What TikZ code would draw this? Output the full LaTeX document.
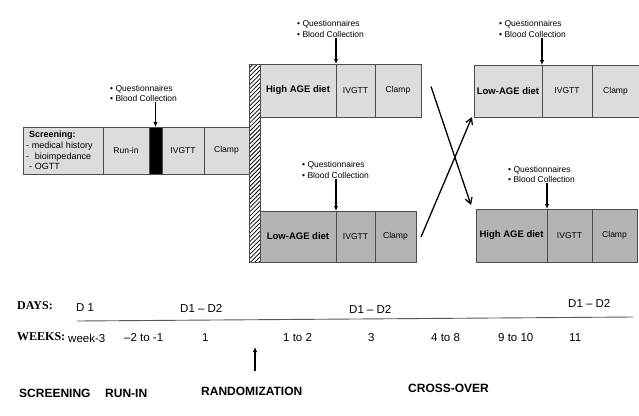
\documentclass[tikz,border=0pt]{standalone}
\usepackage{fontspec}
\setmainfont{Liberation Sans}
\newfontfamily\timesfont{Liberation Serif}
\usetikzlibrary{arrows.meta, positioning, patterns.meta}

\definecolor{lightbox}{RGB}{220,220,220}
\definecolor{darkbox}{RGB}{180,180,180}

\begin{document}
\begin{tikzpicture}[x=1pt, y=-1pt,
  seg/.style={draw=black!70, line width=0.8pt, inner sep=0pt, outer sep=0pt, align=center, font=\fontsize{8.5}{10}\selectfont},
  light/.style={seg, fill=lightbox},
  dark/.style={seg, fill=darkbox},
  diet/.style={font=\bfseries\fontsize{9.5}{11}\selectfont},
  note/.style={anchor=west, align=left, inner sep=0pt, font=\fontsize{8.5}{10.5}\selectfont},
  darr/.style={-{Latex[length=5pt,width=4.5pt]}, line width=1.2pt},
  xarr/.style={-{Straight Barb[length=6pt,width=7pt]}, line width=1.3pt},
  tl/.style={anchor=west, inner sep=0pt, font=\fontsize{11.5}{13}\selectfont},
  hd/.style={anchor=west, inner sep=0pt, font=\timesfont\bfseries\fontsize{12}{14}\selectfont},
  phase/.style={anchor=west, inner sep=0pt, font=\bfseries\fontsize{12}{14}\selectfont}
]
\useasboundingbox (0,0) rectangle (639,415);

% SCREENING / RUN-IN ROW
\node[light, anchor=north west, minimum width=80pt, minimum height=47pt, text width=74pt, align=left,
  font=\fontsize{9}{10.7}\selectfont] (scr) at (23,127)
  {\hspace*{3pt}\textbf{Screening:}\\- medical history\\-~~bioimpedance\\\hspace*{3pt}- OGTT};
\node[light, right=0pt of scr, minimum width=46pt, minimum height=47pt] (runin) {Run-in};
\node[seg, fill=black, right=0pt of runin, minimum width=13pt, minimum height=47pt] (blk) {};
\node[light, right=0pt of blk, minimum width=42pt, minimum height=47pt] (ivgttA) {IVGTT};
\node[light, right=0pt of ivgttA, minimum width=45pt, minimum height=47pt] (clampA) {Clamp};

\node[note] (qA) at (110,93.5) {• Questionnaires\\• Blood Collection};
\draw[darr] (qA.south -| blk.north) -- (blk.north);

% RANDOMIZATION WALL
\node[draw=black!70, line width=0.8pt, pattern={Lines[angle=45, distance=3pt, line width=0.8pt]},
  anchor=north west, inner sep=0pt, outer sep=0pt, minimum width=11pt, minimum height=198pt] (wall) at (249,64) {};

% PERIOD 1: HIGH AGE
\node[light, diet, anchor=north west, minimum width=76pt, minimum height=53pt] (hiA) at (260,64) {High AGE diet};
\node[light, right=0pt of hiA, minimum width=39pt, minimum height=53pt] (ivgttB) {IVGTT};
\node[light, right=0pt of ivgttB, minimum width=46pt, minimum height=53pt] (clampB) {Clamp};

\node[note] (qB) at (297,29) {• Questionnaires\\• Blood Collection};
\draw[darr] (qB.south -| ivgttB.north west) -- (ivgttB.north west);

% PERIOD 1: LOW AGE
\node[dark, diet, anchor=north west, minimum width=76pt, minimum height=51pt] (loA) at (260,211) {Low-AGE diet};
\node[dark, right=0pt of loA, minimum width=39pt, minimum height=51pt] (ivgttC) {IVGTT};
\node[dark, right=0pt of ivgttC, minimum width=41pt, minimum height=51pt] (clampC) {Clamp};

\node[note] (qC) at (302,170) {• Questionnaires\\• Blood Collection};
\draw[darr] (qC.south -| ivgttC.north west) -- (ivgttC.north west);

% PERIOD 2: LOW AGE
\node[light, diet, anchor=north west, minimum width=68pt, minimum height=52pt] (loB) at (474,65) {Low-AGE diet};
\node[light, right=0pt of loB, minimum width=50pt, minimum height=52pt] (ivgttD) {IVGTT};
\node[light, right=0pt of ivgttD, minimum width=47pt, minimum height=52pt] (clampD) {Clamp};

\node[note] (qD) at (499,29) {• Questionnaires\\• Blood Collection};
\draw[darr] (qD.south -| ivgttD.north west) -- (ivgttD.north west);

% PERIOD 2: HIGH AGE
\node[dark, diet, anchor=north west, minimum width=71pt, minimum height=53pt] (hiB) at (476,209) {High AGE diet};
\node[dark, right=0pt of hiB, minimum width=45pt, minimum height=53pt] (ivgttE) {IVGTT};
\node[dark, right=0pt of ivgttE, minimum width=45pt, minimum height=53pt] (clampE) {Clamp};

\node[note] (qE) at (508,174.5) {• Questionnaires\\• Blood Collection};
\draw[darr] (qE.south -| ivgttE.north west) -- (ivgttE.north west);

% CROSS-OVER
\draw[xarr] ([xshift=10pt,yshift=4pt]clampB.east) -- ([xshift=-5pt,yshift=4pt]hiB.north west);
\draw[xarr] ([xshift=5pt,yshift=-0.5pt]clampC.east) -- ([xshift=-2pt]loB.south west);

% TIMELINE
\node[hd] (days) at (17,306) {DAYS:};
\node[tl] (d1) at (76,308) {D 1};
\node[tl] (d2) at (180,308) {D1 -- D2};
\node[tl] (d3) at (349,309) {D1 -- D2};
\node[tl] (d4) at (568,303) {D1 -- D2};

\coordinate (tlstart) at (77,321);
\coordinate (tlend) at (633,317);
\draw[black!65, line width=0.9pt] (tlstart) -- (tlend);

\node[hd] (weeks) at (17,337) {WEEKS:};
\node[tl] (w1) at (68,338) {week-3};
\node[tl] (w2) at (124,338) {--2 to -1};
\node[tl] (w3) at (202,338) {1};
\node[tl] (w4) at (283,338) {1 to 2};
\node[tl] (w5) at (368,338) {3};
\node[tl] (w6) at (431,338) {4 to 8};
\node[tl] (w7) at (498,338) {9 to 10};
\node[tl] (w8) at (569,338) {11};

% PHASES
\node[phase] (ph1) at (19,393) {SCREENING};
\node[phase] (ph2) at (105,393) {RUN-IN};
\node[phase] (ph3) at (201,391) {RANDOMIZATION};
\node[phase] (ph4) at (408,388) {CROSS-OVER};

\coordinate (rtail) at (255,371);
\coordinate (rtip) at (255,347);
\draw[darr, line width=1.8pt] (rtail) -- (rtip);

\end{tikzpicture}
\end{document}
